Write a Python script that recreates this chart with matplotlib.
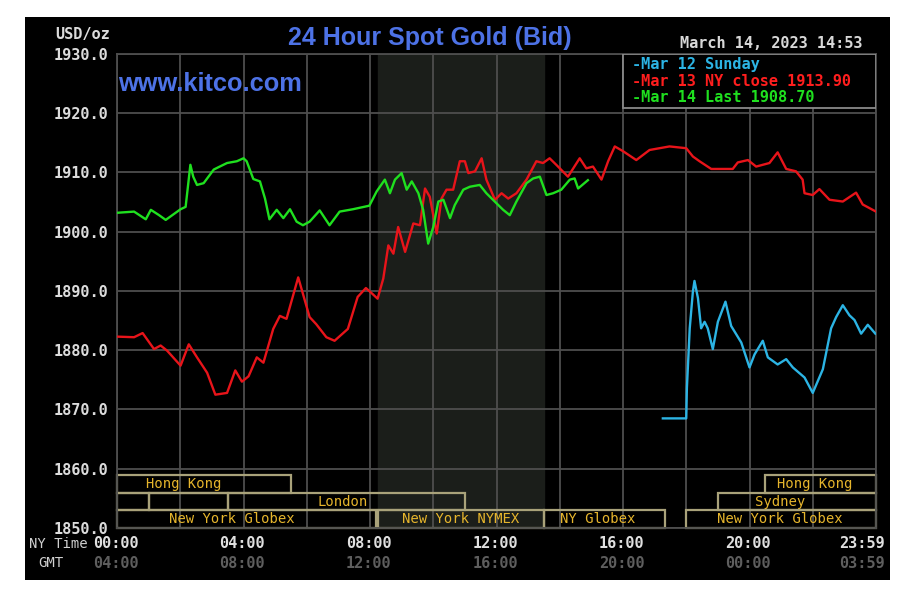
import matplotlib
matplotlib.use("Agg")
import matplotlib.pyplot as plt
import matplotlib.transforms as mtransforms
from matplotlib.patches import Rectangle

# ---------------------------
# DATA (NY time in hours, USD/oz)
# ---------------------------
# Mar 14 - today (green)
green_hours = [0.00, 0.54, 0.91, 1.07, 1.33, 1.54, 2.01, 2.17, 2.32, 2.41, 2.53, 2.74,
               3.06, 3.21, 3.48, 3.79, 4.00, 4.10, 4.31, 4.52, 4.68, 4.82, 5.05, 5.26,
               5.47, 5.68, 5.88, 6.09, 6.41, 6.72, 7.04, 7.46, 7.98, 8.21, 8.47, 8.63,
               8.79, 9.00, 9.16, 9.32, 9.53, 9.68, 9.84, 10.00, 10.16, 10.32, 10.53, 10.68,
               10.95, 11.16, 11.47, 11.68, 12.00, 12.21, 12.42, 12.63, 12.95, 13.16, 13.37,
               13.58, 13.79, 14.05, 14.32, 14.47, 14.58, 14.89]
green_prices = [1903.2, 1903.4, 1902.1, 1903.7, 1902.8, 1902.0, 1903.8, 1904.2, 1911.3, 1909.3,
                1907.9, 1908.2, 1910.5, 1910.9, 1911.6, 1911.9, 1912.4, 1911.9, 1908.9, 1908.5,
                1905.6, 1902.1, 1903.7, 1902.3, 1903.8, 1901.7, 1901.1, 1901.7, 1903.6, 1901.1,
                1903.4, 1903.8, 1904.4, 1906.8, 1908.8, 1906.5, 1908.8, 1909.9, 1907.1, 1908.5,
                1906.5, 1903.7, 1898.0, 1900.8, 1905.1, 1905.4, 1902.3, 1904.5, 1907.1, 1907.6,
                1907.9, 1906.5, 1904.8, 1903.7, 1902.8, 1905.1, 1908.2, 1909.0, 1909.3, 1906.2,
                1906.5, 1907.1, 1908.8, 1909.0, 1907.3, 1908.7]

# Mar 13 - NY close (red)
red_hours = [0.00, 0.54, 0.81, 1.17, 1.38, 1.59, 2.01, 2.27, 2.53, 2.85, 3.11, 3.48, 3.74,
             3.95, 4.16, 4.42, 4.63, 4.94, 5.15, 5.36, 5.73, 6.09, 6.30, 6.62, 6.88, 7.30,
             7.61, 7.87, 8.08, 8.24, 8.42, 8.58, 8.74, 8.89, 9.11, 9.37, 9.58, 9.74, 9.89,
             10.11, 10.26, 10.42, 10.63, 10.84, 11.00, 11.11, 11.32, 11.53, 11.68, 11.95,
             12.16, 12.37, 12.63, 12.95, 13.26, 13.47, 13.68, 13.89, 14.26, 14.63, 14.84,
             15.05, 15.32, 15.53, 15.74, 16.00, 16.42, 16.84, 17.47, 18.00, 18.21, 18.42,
             18.79, 19.47, 19.63, 19.95, 20.21, 20.63, 20.89, 21.16, 21.47, 21.68, 21.74,
             22.00, 22.21, 22.53, 22.95, 23.37, 23.58, 24.00]
red_prices = [1882.3, 1882.2, 1882.9, 1880.2, 1880.8, 1879.9, 1877.4, 1881.0, 1878.8, 1876.2,
              1872.5, 1872.8, 1876.6, 1874.7, 1875.6, 1878.8, 1877.9, 1883.6, 1885.8, 1885.3,
              1892.3, 1885.6, 1884.4, 1882.2, 1881.6, 1883.6, 1889.0, 1890.5, 1889.5, 1888.7,
              1892.1, 1897.7, 1896.3, 1900.8, 1896.6, 1901.4, 1901.1, 1907.3, 1905.9, 1899.7,
              1905.6, 1907.1, 1907.1, 1911.9, 1911.9, 1909.9, 1910.2, 1912.4, 1908.8, 1905.4,
              1906.5, 1905.6, 1906.5, 1908.8, 1911.9, 1911.6, 1912.4, 1911.3, 1909.3, 1912.4,
              1910.7, 1911.0, 1908.8, 1911.9, 1914.4, 1913.6, 1912.1, 1913.8, 1914.4, 1914.1,
              1912.7, 1911.9, 1910.6, 1910.6, 1911.7, 1912.1, 1911.0, 1911.6, 1913.4, 1910.6,
              1910.2, 1908.8, 1906.5, 1906.2, 1907.2, 1905.4, 1905.1, 1906.6, 1904.6, 1903.4]

# Mar 12 - Sunday (blue)
blue_hours = [17.26, 18.00, 18.02, 18.11, 18.21, 18.26, 18.37, 18.47, 18.58, 18.68, 18.84,
              19.00, 19.24, 19.42, 19.74, 20.00, 20.16, 20.42, 20.58, 20.89, 21.16, 21.37,
              21.74, 22.00, 22.32, 22.58, 22.74, 22.95, 23.16, 23.32, 23.53, 23.74, 23.98]
blue_prices = [1868.5, 1868.5, 1873.6, 1883.7, 1889.9, 1891.7, 1888.8, 1883.7, 1884.8, 1883.7,
               1880.2, 1884.8, 1888.2, 1884.1, 1881.3, 1877.1, 1879.3, 1881.6, 1878.8, 1877.6,
               1878.5, 1877.1, 1875.4, 1872.8, 1876.8, 1883.7, 1885.6, 1887.6, 1885.9, 1885.1,
               1882.8, 1884.3, 1882.8]

y_ticks = [1850, 1860, 1870, 1880, 1890, 1900, 1910, 1920, 1930]
label_hours = [0, 4, 8, 12, 16, 20, 24]
ny_labels = ["00:00", "04:00", "08:00", "12:00", "16:00", "20:00", "23:59"]
gmt_labels = ["04:00", "08:00", "12:00", "16:00", "20:00", "00:00", "03:59"]

# market sessions (row 0 = bottom)
session_rows = [2, 1, 1, 1, 0, 0, 0, 0, 2, 1]
session_start = [0, 0, 1.0, 3.5, 0, 8.25, 13.5, 18.0, 20.5, 19.0]
session_end = [5.5, 1.0, 3.5, 11.0, 8.2, 13.5, 17.33, 24, 24, 24]
session_names = ["Hong Kong", "", "", "London", "New York Globex", "New York NYMEX",
                 "NY Globex", "New York Globex", "Hong Kong", "Sydney"]
session_label_x = [2.1, 0, 0, 7.15, 3.64, 10.85, 15.2, 20.97, 22.07, 20.97]

nymex_open, nymex_close = 8.25, 13.5

legend_texts = ["-Mar 12 Sunday", "-Mar 13 NY close 1913.90", "-Mar 14 Last 1908.70"]

# ---------------------------
# STYLE
# ---------------------------
W, H = 913, 596
GRID = "#4e4e4e"
BOX = "#a9a27a"
GOLD = "#e6b52c"
BLUE_TXT = "#4d72e6"
C_GREEN = "#1fe01f"
C_RED = "#e8141a"
C_BLUE = "#2cb4e4"
MONO = "DejaVu Sans Mono"

fig = plt.figure(figsize=(W / 100, H / 100), dpi=100, facecolor="white")
fig.patches.append(Rectangle((25 / W, 1 - 580 / H), 865 / W, 563 / H,
                             transform=fig.transFigure, facecolor="black",
                             edgecolor="none", zorder=-10))

ax = fig.add_axes([117 / W, 1 - 528 / H, 759 / W, 474 / H])
ax.set_facecolor("black")
ax.set_xlim(0, 24)
ax.set_ylim(1850, 1930)

ax.axvspan(nymex_open, nymex_close, color="#1b1e1a", zorder=0)

ax.set_xticks(range(0, 25, 2))
ax.set_xticklabels([])
ax.set_yticks(y_ticks)
ax.set_yticklabels([f"{v:.1f}" for v in y_ticks], fontfamily=MONO,
                   fontweight="bold", fontsize=11, color="#dcdcdc")
ax.tick_params(length=0, pad=6)
ax.grid(True, color=GRID, linewidth=1.3, zorder=1)
for s in ax.spines.values():
    s.set_color(GRID)
    s.set_linewidth(1.3)

# session boxes
row_h = 2.98
for r, a, b, name, lx in zip(session_rows, session_start, session_end,
                             session_names, session_label_x):
    y0 = 1850 + r * row_h
    ax.add_patch(Rectangle((a, y0), b - a, row_h, fill=False, edgecolor=BOX,
                           linewidth=1.6, zorder=2, clip_on=False))
    if name:
        ax.text(lx, y0 + row_h / 2, name, ha="center", va="center",
                fontfamily=MONO, fontsize=10, color=GOLD, zorder=3)

ax.plot(blue_hours, blue_prices, color=C_BLUE, linewidth=1.7, zorder=4)
ax.plot(red_hours, red_prices, color=C_RED, linewidth=1.7, zorder=4)
ax.plot(green_hours, green_prices, color=C_GREEN, linewidth=1.7, zorder=4)

# legend box
ax.add_patch(Rectangle((16, 1920.9), 8, 9.1, facecolor="black", edgecolor="#8a8a8a",
                       linewidth=1.3, zorder=6))
for i, (txt, col) in enumerate(zip(legend_texts, [C_BLUE, "#ff1e1e", C_GREEN])):
    ax.text((632 - 117) / 759, (528 - 64 - 17 * i) / 474, txt, transform=ax.transAxes,
            ha="left", va="center", fontfamily=MONO, fontweight="bold",
            fontsize=11, color=col, zorder=7)

# time labels
trans = mtransforms.blended_transform_factory(ax.transData, fig.transFigure)
for h, ny, gmt in zip(label_hours, ny_labels, gmt_labels):
    off = mtransforms.ScaledTranslation(-10 / 72 if h == 24 else -1 / 72, 0,
                                        fig.dpi_scale_trans)
    fig.text(h, 1 - 544 / H, ny, transform=trans + off, ha="center", va="center",
             fontfamily=MONO, fontweight="bold", fontsize=11, color="#e0e0e0")
    fig.text(h, 1 - 563 / H, gmt, transform=trans + off, ha="center", va="center",
             fontfamily=MONO, fontweight="bold", fontsize=11, color="#5e5e5e")

fig.text(88 / W, 1 - 544 / H, "NY Time", ha="right", va="center",
         fontfamily=MONO, fontsize=10, color="#d0d0d0")
fig.text(51 / W, 1 - 563 / H, "GMT", ha="center", va="center",
         fontfamily=MONO, fontsize=10, color="#d0d0d0")
fig.text(110 / W, 1 - 34 / H, "USD/oz", ha="right", va="center",
         fontfamily=MONO, fontweight="bold", fontsize=11, color="#dcdcdc")

fig.text(430 / W, 1 - 38 / H, "24 Hour Spot Gold (Bid)", ha="center", va="center",
         fontfamily="Liberation Sans", fontweight="bold", fontsize=18, color=BLUE_TXT)
fig.text(118 / W, 1 - 84 / H, "www.kitco.com", ha="left", va="center",
         fontfamily="Liberation Sans", fontweight="bold", fontsize=18.3, color=BLUE_TXT)
fig.text(862 / W, 1 - 44 / H, "March 14, 2023 14:53", ha="right", va="center",
         fontfamily=MONO, fontweight="bold", fontsize=11, color="#d8d8d8")

fig.savefig("out.png", dpi=100, facecolor="white")
